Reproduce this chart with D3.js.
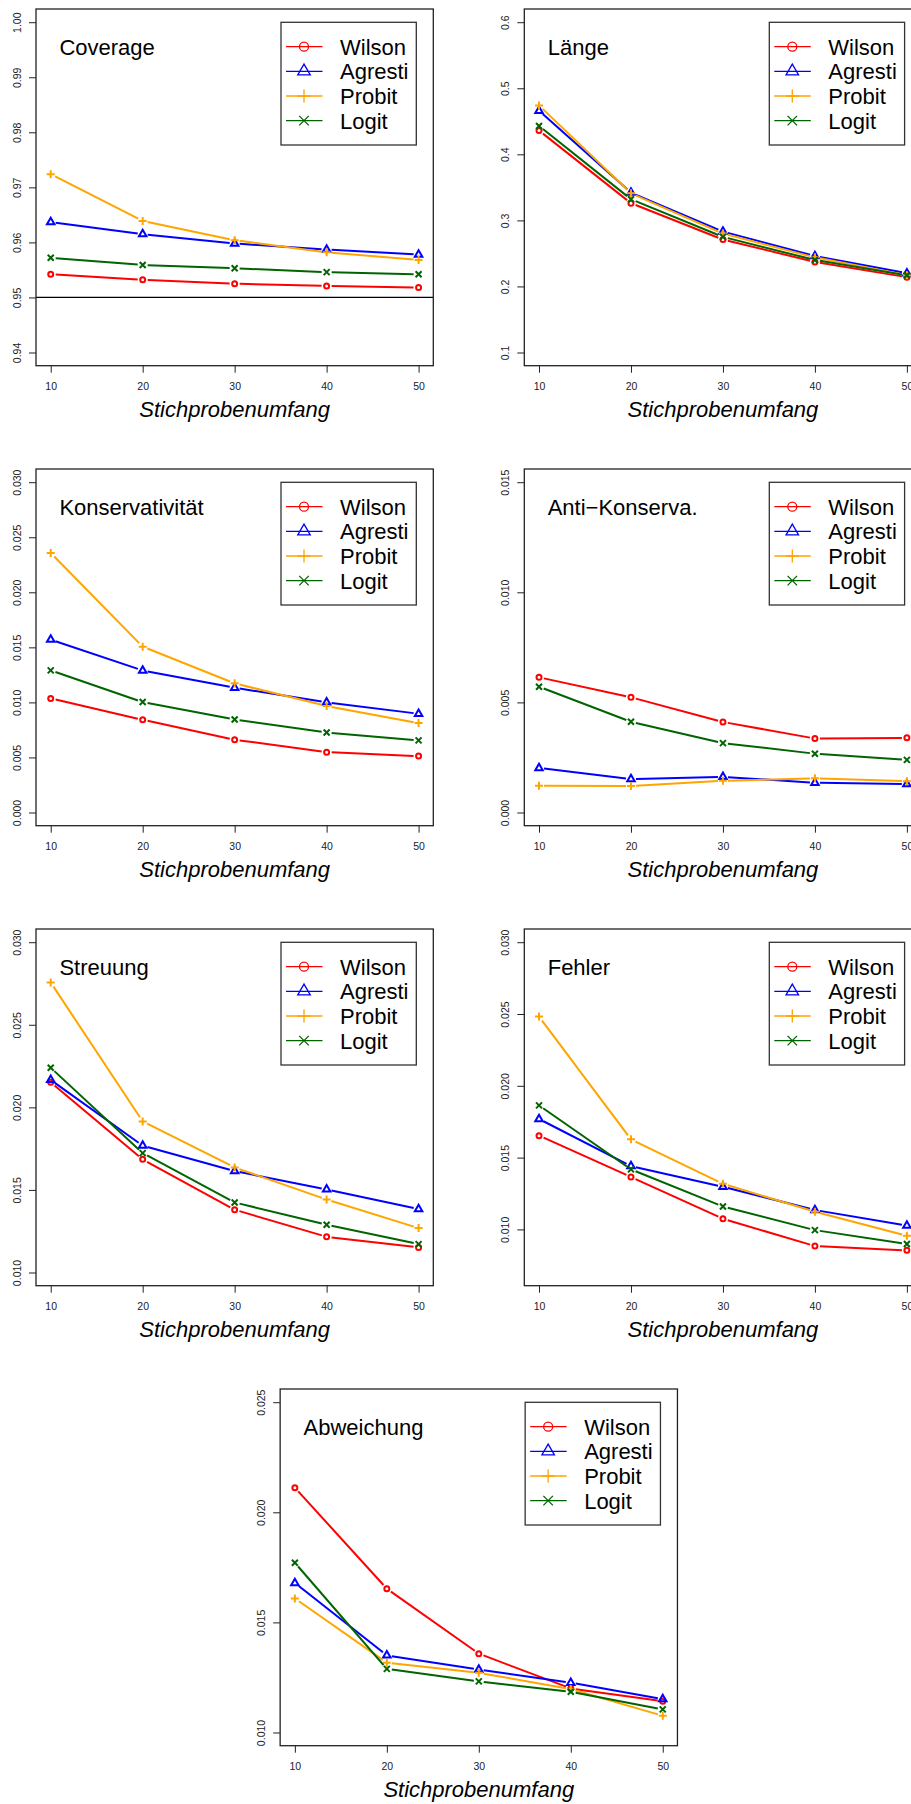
<!DOCTYPE html>
<html>
<head>
<meta charset="utf-8">
<script src="https://cdn.jsdelivr.net/npm/d3@7"></script>
<style>
  body { margin: 0; background: white; }
  text { font-family: "Liberation Sans", Arial, Helvetica, sans-serif; }
</style>
</head>
<body>
<div id="chart"></div>
<script>
// Konfidenzintervalle fuer p: Vergleich der Methoden nach Stichprobenumfang

var ns = [10, 20, 30, 40, 50];
var methods = ["Wilson", "Agresti", "Probit", "Logit"];
var colors = ["red", "blue", "orange", "darkgreen"];
var shapes = ["circle", "triangle", "plus", "cross"];

var titles = ["Coverage", "Länge", "Konservativität", "Anti\u2212Konserva.", "Streuung", "Fehler", "Abweichung"];
var yLims = [[0.94, 1.00], [0.1, 0.6], [0, 0.030], [0, 0.015], [0.010, 0.030], [0.007, 0.030], [0.010, 0.025]];
var yTicks = [
  ["0.94", "0.95", "0.96", "0.97", "0.98", "0.99", "1.00"],
  ["0.1", "0.2", "0.3", "0.4", "0.5", "0.6"],
  ["0.000", "0.005", "0.010", "0.015", "0.020", "0.025", "0.030"],
  ["0.000", "0.005", "0.010", "0.015"],
  ["0.010", "0.015", "0.020", "0.025", "0.030"],
  ["0.010", "0.015", "0.020", "0.025", "0.030"],
  ["0.010", "0.015", "0.020", "0.025"]
];

// one row per method: Wilson, Agresti, Probit, Logit
var coverage = [
  [0.9542, 0.9532, 0.9525, 0.9521, 0.9518],
  [0.9637, 0.9615, 0.9598, 0.9587, 0.9578],
  [0.9724, 0.9639, 0.9604, 0.9582, 0.9568],
  [0.9572, 0.9559, 0.9553, 0.9546, 0.9542]
];
var laenge = [
  [0.436, 0.326, 0.271, 0.237, 0.214],
  [0.466, 0.342, 0.283, 0.246, 0.220],
  [0.474, 0.341, 0.280, 0.244, 0.217],
  [0.443, 0.332, 0.275, 0.240, 0.217]
];
var konservativ = [
  [0.01036, 0.00842, 0.00661, 0.00548, 0.00512],
  [0.0157, 0.0129, 0.01133, 0.0100, 0.00897],
  [0.02358, 0.01506, 0.01173, 0.00967, 0.00812],
  [0.01291, 0.01003, 0.00845, 0.00727, 0.00655]
];
var antiKonservativ = [
  [0.00614, 0.00523, 0.00411, 0.00336, 0.00339],
  [0.00202, 0.00152, 0.00162, 0.00135, 0.00129],
  [0.00121, 0.00120, 0.00144, 0.00155, 0.00142],
  [0.00571, 0.00412, 0.00315, 0.00267, 0.00239]
];
var streuung = [
  [0.02152, 0.01685, 0.0138, 0.01216, 0.01152],
  [0.02166, 0.01768, 0.01614, 0.01503, 0.01384],
  [0.02756, 0.01915, 0.01636, 0.01442, 0.01269],
  [0.0224, 0.01723, 0.01424, 0.01289, 0.01172]
];
var fehler = [
  [0.01653, 0.01365, 0.01074, 0.00884, 0.00854],
  [0.01769, 0.01441, 0.01297, 0.01135, 0.01026],
  [0.02482, 0.01627, 0.01318, 0.01123, 0.00956],
  [0.01864, 0.01418, 0.0116, 0.00995, 0.00898]
];
var abweichung = [
  [0.02112, 0.01653, 0.01358, 0.0120, 0.01142],
  [0.01679, 0.0135, 0.01286, 0.01226, 0.01152],
  [0.01609, 0.01317, 0.01271, 0.01197, 0.01076],
  [0.01771, 0.01289, 0.01232, 0.01185, 0.01105]
];
var panels = [coverage, laenge, konservativ, antiKonservativ, streuung, fehler, abweichung];

var svg = d3.select("#chart").append("svg").attr("width", 911).attr("height", 1804);
svg.append("rect").attr("width", "100%").attr("height", "100%").attr("fill", "white");

var cellW = 488.3, cellH = 460;
var boxW = 397.3, boxH = 356.7;

function SymbolPath(shape, s){
  if(shape == "triangle"){ var h = s*0.866; return "M0," + (-h*2/3) + "L" + (s/2) + "," + (h/3) + "L" + (-s/2) + "," + (h/3) + "Z"; }
  if(shape == "plus"){ return "M" + (-s/2) + ",0H" + (s/2) + "M0," + (-s/2) + "V" + (s/2); }
  if(shape == "cross"){ var a = s/2; return "M" + (-a) + "," + (-a) + "L" + a + "," + a + "M" + (-a) + "," + a + "L" + a + "," + (-a); }
  return null;
} // Ends Function SymbolPath

function DrawSymbol(g, shape, x, y, size, color, width){
  if(shape == "circle"){
    g.append("circle").attr("cx", x).attr("cy", y).attr("r", size/2)
      .attr("fill", "none").attr("stroke", color).attr("stroke-width", width);
  } else {
    g.append("path").attr("d", SymbolPath(shape, size)).attr("transform", "translate(" + x + "," + y + ")")
      .attr("fill", "none").attr("stroke", color).attr("stroke-width", width);
  }
} // Ends Function DrawSymbol

function DrawPanel(i){
  var bx, by;
  if(i < 6){ bx = 36 + (i % 2)*cellW; by = 9 + Math.floor(i/2)*cellH; }
  else { bx = 36 + cellW/2; by = 9 + 3*cellH; }
  var lim = yLims[i];
  var pad = (lim[1] - lim[0])*0.04;
  var x = d3.scaleLinear().domain([10 - 40*0.04, 50 + 40*0.04]).range([bx, bx + boxW]);
  var y = d3.scaleLinear().domain([lim[0] - pad, lim[1] + pad]).range([by + boxH, by]);
  var g = svg.append("g");

  // axes: ticks outside the box
  var xAxis = d3.axisBottom(x).tickValues(ns).tickSize(7).tickFormat(d3.format("d"));
  var gx = g.append("g").attr("transform", "translate(0," + (by + boxH) + ")").call(xAxis);
  gx.select(".domain").remove();
  gx.selectAll("line").attr("stroke", "#222");
  gx.selectAll("text").attr("y", 17).attr("dy", "0.71em").style("font-size", "10.5px").attr("fill", "#222")
    .style("font-family", "'Liberation Sans', Arial, sans-serif");

  var tv = yTicks[i].map(Number);
  var yAxis = d3.axisLeft(y).tickValues(tv).tickSize(7).tickFormat(function(d, k){ return yTicks[i][k]; });
  var gy = g.append("g").attr("transform", "translate(" + bx + ",0)").call(yAxis);
  gy.select(".domain").remove();
  gy.selectAll("line").attr("stroke", "#222");
  gy.selectAll("text").attr("x", 0).attr("dy", 0)
    .attr("transform", "translate(-15.3,0) rotate(-90)").attr("text-anchor", "middle")
    .style("font-size", "10.5px").attr("fill", "#222").style("font-family", "'Liberation Sans', Arial, sans-serif");

  g.append("text").attr("x", bx + boxW/2).attr("y", by + boxH + 51).attr("text-anchor", "middle")
    .style("font-size", "22px").style("font-style", "italic").text("Stichprobenumfang");

  if(i == 0){
    g.append("line").attr("x1", bx).attr("x2", bx + boxW).attr("y1", y(0.95)).attr("y2", y(0.95))
      .attr("stroke", "black").attr("stroke-width", 1.3);
  }

  // series: type "b" lines with gaps around the points
  var gap = 5;
  panels[i].forEach(function(vals, m){
    var pts = vals.map(function(v, k){ return [x(ns[k]), y(v)]; });
    for(var k = 0; k < pts.length - 1; k++){
      var dx = pts[k+1][0] - pts[k][0], dy = pts[k+1][1] - pts[k][1];
      var len = Math.sqrt(dx*dx + dy*dy);
      if(len <= 2*gap) continue;
      var ux = dx/len, uy = dy/len;
      g.append("line")
        .attr("x1", pts[k][0] + ux*gap).attr("y1", pts[k][1] + uy*gap)
        .attr("x2", pts[k+1][0] - ux*gap).attr("y2", pts[k+1][1] - uy*gap)
        .attr("stroke", colors[m]).attr("stroke-width", 2);
    }
    var sz = {circle: 5, triangle: 7.5, plus: 8, cross: 6}[shapes[m]];
    pts.forEach(function(p){ DrawSymbol(g, shapes[m], p[0], p[1], sz, colors[m], 2); });
  });

  g.append("rect").attr("x", bx).attr("y", by).attr("width", boxW).attr("height", boxH)
    .attr("fill", "none").attr("stroke", "#222").attr("stroke-width", 1.3);

  g.append("text").attr("x", bx + 23.4).attr("y", by + 46).style("font-size", "22px").text(titles[i]);

  // legend
  var lx = bx + 245, ly = by + 13.3;
  g.append("rect").attr("x", lx).attr("y", ly).attr("width", 135.3).attr("height", 122.7)
    .attr("fill", "white").attr("stroke", "#333").attr("stroke-width", 1.3);
  methods.forEach(function(name, m){
    var ry = ly + 24.4 + m*24.65;
    g.append("line").attr("x1", lx + 5).attr("x2", lx + 41.5).attr("y1", ry).attr("y2", ry)
      .attr("stroke", colors[m]).attr("stroke-width", 1.3);
    var lsz = {circle: 9, triangle: 12.5, plus: 13, cross: 9.5}[shapes[m]];
    DrawSymbol(g, shapes[m], lx + 23, ry, lsz, colors[m], 1.3);
    g.append("text").attr("x", lx + 59).attr("y", ry + 8).style("font-size", "22px").text(name);
  });
} // Ends Function DrawPanel

for(var i = 0; i < panels.length; i++){ DrawPanel(i); }
</script>
</body>
</html>
